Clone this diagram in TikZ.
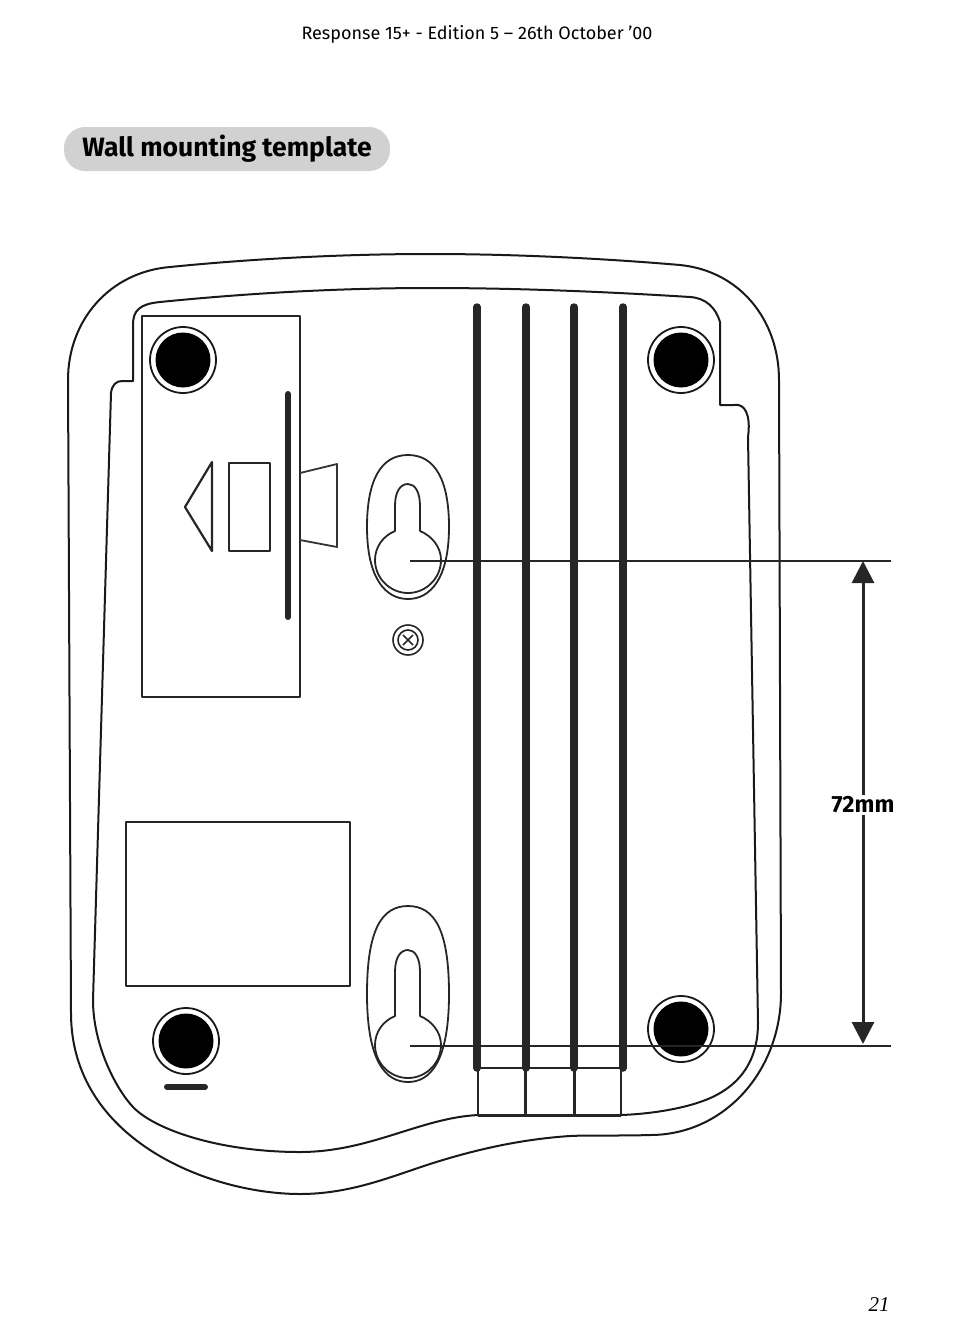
\documentclass[tikz,border=0pt]{standalone}
\usepackage{fontspec}
\setmainfont{Fira Sans}
\newfontfamily\pagefont{Liberation Serif}
\usetikzlibrary{arrows.meta}

\begin{document}
\begin{tikzpicture}[
    x=1pt, y=-1pt,
    line join=round,
    outline/.style={draw=black!90, line width=2pt},
    part/.style={draw=black!85, line width=2.2pt},
    bar/.style={draw=black!85, line width=7.5pt, line cap=round},
    dimline/.style={draw=black!85, line width=2pt},
    dimarrow/.style={draw=black!85, line width=3pt,
        {Triangle[width=22pt,length=22pt]}-{Triangle[width=22pt,length=22pt]}},
    pill/.style={rectangle, rounded corners=21pt, fill=black!18, minimum width=326pt,
        minimum height=44pt, inner sep=0pt}
    ]

\useasboundingbox (0,0) rectangle (954,1336);

%texts
\node (edition) at (477,34) {\fontsize{18}{20}\selectfont Response 15+ - Edition 5 -- 26th October ’00};
\node[pill] (title) at (227,149) {\fontsize{26.5}{28}\selectfont\bfseries Wall mounting template};
\node (pagenum) at (879,1305) {\fontsize{21}{23}\selectfont\pagefont\itshape 21};

%outer outline
\draw[outline] (68,380) .. controls (68,320) and (110,272) .. (170,267)
    .. controls (250,259) and (340,254) .. (430,254)
    .. controls (520,254) and (610,259) .. (680,265)
    .. controls (740,271) and (779,320) .. (779,380)
    -- (781,993)
    .. controls (781,1070) and (725,1135) .. (650,1135)
    .. controls (620,1136) and (590,1135) .. (570,1136)
    .. controls (525,1139) and (480,1148) .. (430,1164)
    .. controls (390,1177) and (350,1194) .. (300,1194)
    .. controls (210,1194) and (71,1140) .. (71,1013)
    -- cycle;

%inner outline
\draw[outline] (133,381) -- (133,325) .. controls (133,310) and (140,304) .. (160,302)
    .. controls (250,293) and (340,288) .. (430,288)
    .. controls (520,288) and (610,292) .. (690,297)
    .. controls (706,298) and (716,308) .. (720,322)
    -- (720,405) -- (734,405) .. controls (745,403) and (751,415) .. (748,437)
    -- (758,1023)
    .. controls (758,1070) and (730,1092) .. (700,1102)
    .. controls (680,1109) and (650,1114) .. (621,1115)
    -- (478,1115)
    .. controls (420,1118) and (370,1152) .. (300,1152)
    .. controls (220,1152) and (155,1130) .. (133,1107)
    .. controls (116,1089) and (93,1045) .. (93,1000)
    -- (111,393) .. controls (112,385) and (116,381) .. (122,381)
    -- cycle;

%battery bay and label area
\draw[part] (142,316) rectangle (300,697);
\draw[part] (126,822) rectangle (350,986);

%rubber feet
\foreach \fx/\fy in {183/360, 681/360, 186/1041, 681/1029} {
    \draw[draw=black!90, line width=1.8pt] (\fx,\fy) circle[radius=33pt];
    \fill[black] (\fx,\fy) circle[radius=27.5pt];
}
\draw[draw=black!85, line width=6pt, line cap=round] (167,1087) -- (205,1087);

%socket
\draw[draw=black!85, line width=6pt, line cap=round] (288,394) -- (288,617);
\draw[part] (212,462) -- (185,507) -- (212,551) -- cycle;
\draw[part] (229,463) rectangle (270,551);
\draw[draw=black!80, line width=1.8pt] (300,473) -- (337,464) -- (337,547) -- (300,540);

%keyholes
\foreach \ot/\ob/\kt/\kc in {455/599/484/560, 906/1082/950/1045} {
    \draw[draw=black!85, line width=1.8pt] (408,\ot)
        .. controls (435,\ot) and (449,\ot+25) .. (449,{(\ot+\ob)/2})
        .. controls (449,\ob-20) and (430,\ob) .. (408,\ob)
        .. controls (386,\ob) and (367,\ob-20) .. (367,{(\ot+\ob)/2})
        .. controls (367,\ot+25) and (381,\ot) .. (408,\ot) -- cycle;
    \draw[draw=black!85, line width=1.8pt] (395,\kc-29)
        .. controls (383,\kc-24) and (375,\kc-13) .. (375,\kc)
        .. controls (375,\kc+18) and (390,\kc+33) .. (408,\kc+33)
        .. controls (426,\kc+33) and (441,\kc+18) .. (441,\kc)
        .. controls (441,\kc-13) and (432,\kc-24) .. (420,\kc-29)
        -- (420,\kt+22) .. controls (420,\kt+8) and (415,\kt) .. (408,\kt)
        .. controls (400,\kt) and (395,\kt+8) .. (395,\kt+22) -- cycle;
}

%screw
\draw[draw=black!85, line width=1.6pt] (408,640) circle[radius=15pt];
\draw[draw=black!85, line width=1.6pt] (408,640) circle[radius=10pt];
\draw[draw=black!85, line width=1.6pt] (403,635) -- (413,645) (413,635) -- (403,645);

%cable channels
\foreach \bx in {477,526,574,623} {
    \draw[bar] (\bx,307) -- (\bx,1068);
}
\draw[part] (478,1068) -- (621,1068) -- (621,1115) (478,1068) -- (478,1115);
\draw[draw=black!85, line width=3pt] (525,1068) -- (525,1115);
\draw[draw=black!85, line width=3pt] (574,1068) -- (574,1115);
\draw[draw=black!85, line width=3pt] (478,1115) -- (621,1115);

%dimension
\coordinate (topleft) at (410,561);
\coordinate (topright) at (891,561);
\coordinate (botleft) at (410,1046);
\coordinate (botright) at (891,1046);
\coordinate (toptip) at (863,561);
\coordinate (bottip) at (863,1044);
\draw[dimline] (topleft) -- (topright);
\draw[dimline] (botleft) -- (botright);
\draw[dimarrow] (toptip) -- (bottip);
\node[fill=white, inner sep=2pt] (dimlabel) at (863,805)
    {\fontsize{23.5}{25}\selectfont\bfseries 72mm};

\end{tikzpicture}
\end{document}
